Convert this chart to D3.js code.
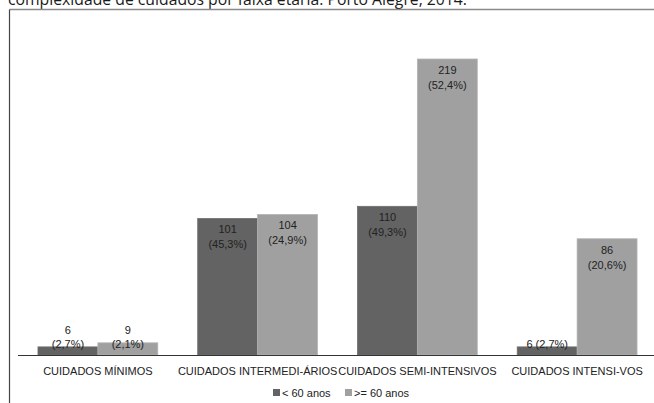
<!DOCTYPE html>
<html>
<head>
<meta charset="utf-8">
<script src="https://cdn.jsdelivr.net/npm/d3@7"></script>
<style>
  html, body { margin: 0; padding: 0; background: #fff; }
  svg { display: block; }
</style>
</head>
<body>
<svg id="chart" width="654" height="403"></svg>
<script>
// Pacientes por nível de complexidade de cuidados e faixa etária
const categories = ["CUIDADOS MÍNIMOS", "CUIDADOS INTERMEDI-ÁRIOS", "CUIDADOS SEMI-INTENSIVOS", "CUIDADOS INTENSI-VOS"];
const seriesNames = ["< 60 anos", ">= 60 anos"];
const under60 = [6, 101, 110, 6];
const over60 = [9, 104, 219, 86];
const under60Pct = ["2,7%", "45,3%", "49,3%", "2,7%"];
const over60Pct = ["2,1%", "24,9%", "52,4%", "20,6%"];
const titleText = "complexidade de cuidados por faixa etária. Porto Alegre, 2014.";

const colors = ["#636363", "#a0a0a0"];
const svg = d3.select("#chart");
const W = 654;
const baseY = 355;

// título (continuação de uma linha anterior, cortado no topo)
svg.append("text")
  .attr("x", 8).attr("y", 4.5)
  .attr("font-family", "'Open Sans', 'Noto Sans', sans-serif")
  .attr("font-size", 17)
  .attr("fill", "#1a1a1a")
  .attr("textLength", 459)
  .attr("lengthAdjust", "spacingAndGlyphs")
  .text(titleText);

// moldura
svg.append("line").attr("x1", 9.5).attr("x2", W).attr("y1", 9.5).attr("y2", 9.5)
  .attr("stroke", "#8a8a8a").attr("stroke-width", 1.5);
svg.append("line").attr("x1", 9.5).attr("x2", 9.5).attr("y1", 9.5).attr("y2", 403)
  .attr("stroke", "#444").attr("stroke-width", 1.2);

const data = categories.map((c, i) => ({
  cat: c,
  vals: [
    { s: 0, v: under60[i], p: under60Pct[i] },
    { s: 1, v: over60[i], p: over60Pct[i] }
  ]
}));

const x0 = d3.scaleBand().domain(categories).range([18, 657])
  .paddingInner(0.25).paddingOuter(0.125);
const x1 = d3.scaleBand().domain([0, 1]).range([0, x0.bandwidth()]);
const y = d3.scaleLinear().domain([0, d3.max(over60)]).range([baseY, 59]);

const groups = svg.selectAll("g.grp").data(data).join("g")
  .attr("class", "grp")
  .attr("transform", d => `translate(${x0(d.cat)},0)`);

groups.selectAll("rect").data(d => d.vals).join("rect")
  .attr("x", d => x1(d.s))
  .attr("y", d => y(d.v))
  .attr("width", x1.bandwidth())
  .attr("height", d => baseY - y(d.v))
  .attr("fill", d => colors[d.s])
  .attr("stroke", d => d.s === 1 ? "#b4b4b4" : "#6e6e6e")
  .attr("stroke-width", 0.8);

// rótulos de valor
const labelFont = "'Liberation Sans', Arial, sans-serif";
const fs = 11;
groups.each(function(d) {
  const g = d3.select(this);
  d.vals.forEach(b => {
    const cx = x1(b.s) + x1.bandwidth() / 2;
    const top = y(b.v);
    const small = baseY - top < 30;
    if (small && d.cat === "CUIDADOS INTENSI-VOS") {
      g.append("text").attr("x", cx).attr("y", baseY - 7)
        .attr("text-anchor", "middle").attr("font-family", labelFont)
        .attr("font-size", fs).attr("fill", "#222")
        .text(`${b.v} (${b.p})`);
    } else {
      const y1 = small ? baseY - 21 : top + 15;
      const y2 = small ? baseY - 7 : top + 30;
      g.append("text").attr("x", cx).attr("y", y1)
        .attr("text-anchor", "middle").attr("font-family", labelFont)
        .attr("font-size", fs).attr("fill", "#222").text(b.v);
      g.append("text").attr("x", cx).attr("y", y2)
        .attr("text-anchor", "middle").attr("font-family", labelFont)
        .attr("font-size", fs).attr("fill", "#222").text(`(${b.p})`);
    }
  });
});

// eixo horizontal
const xAxis = d3.axisBottom(x0).tickSize(0).tickPadding(12);
const ax = svg.append("g").attr("transform", `translate(0,${baseY})`).call(xAxis);
ax.select(".domain").remove();
ax.selectAll("text")
  .attr("font-family", labelFont).attr("font-size", fs).attr("fill", "#222");
svg.append("line").attr("x1", 18).attr("x2", W).attr("y1", baseY + 0.5).attr("y2", baseY + 0.5)
  .attr("stroke", "#333").attr("stroke-width", 1);

// legenda
const legendX = [273, 345];
const legend = svg.selectAll("g.leg").data(seriesNames).join("g")
  .attr("class", "leg")
  .attr("transform", (d, i) => `translate(${legendX[i]},389)`);
legend.append("rect").attr("width", 7).attr("height", 7)
  .attr("fill", (d, i) => colors[i]);
legend.append("text").attr("x", 9).attr("y", 7.5)
  .attr("font-family", labelFont).attr("font-size", 11).attr("fill", "#222")
  .text(d => d);
</script>
</body>
</html>
